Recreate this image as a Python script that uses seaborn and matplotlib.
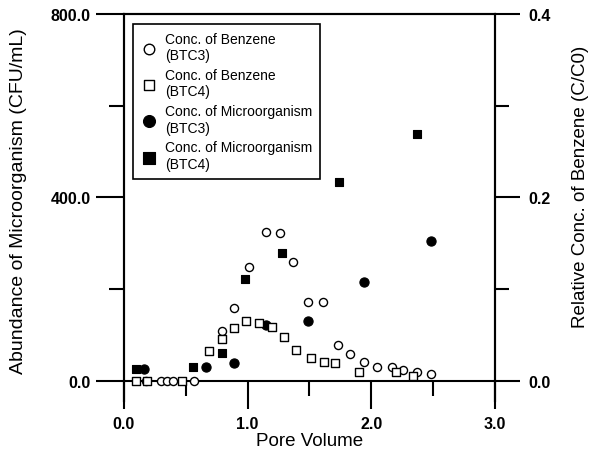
import matplotlib
matplotlib.use("Agg")
import matplotlib.pyplot as plt
import seaborn as sns
import pandas as pd
from matplotlib.ticker import MultipleLocator, FormatStrFormatter

# ---- data ----
pv_benz3 = [0.18, 0.30, 0.35, 0.40, 0.57, 0.79, 0.89, 1.01, 1.15, 1.26, 1.37,
            1.49, 1.61, 1.73, 1.83, 1.94, 2.05, 2.17, 2.26, 2.37, 2.48]
benz3 = [0, 0, 0, 0, 0, 0.054, 0.079, 0.124, 0.162, 0.161, 0.130,
         0.086, 0.086, 0.039, 0.029, 0.021, 0.015, 0.015, 0.012, 0.010, 0.007]

pv_benz4 = [0.10, 0.19, 0.47, 0.69, 0.79, 0.89, 0.99, 1.09, 1.20, 1.29, 1.39,
            1.51, 1.62, 1.71, 1.90, 2.20, 2.34]
benz4 = [0, 0, 0, 0.032, 0.046, 0.058, 0.065, 0.063, 0.059, 0.048, 0.034,
         0.025, 0.021, 0.019, 0.010, 0.010, 0.0055]

pv_micro3 = [0.16, 0.66, 0.89, 1.15, 1.49, 1.94, 2.48]
micro3 = [26, 30, 39, 122, 131, 216, 304]

pv_micro4 = [0.10, 0.56, 0.79, 0.98, 1.28, 1.74, 2.37]
micro4 = [26, 31, 61, 223, 278, 433, 538]

labels = ["Conc. of Benzene\n(BTC3)", "Conc. of Benzene\n(BTC4)",
          "Conc. of Microorganism\n(BTC3)", "Conc. of Microorganism\n(BTC4)"]

x_ticks = [0, 1, 2, 3]
left_ticks = [0, 400, 800]
right_ticks = [0.0, 0.2, 0.4]

# ---- style ----
sns.set_style("ticks")
plt.rcParams["font.family"] = ["Liberation Sans", "DejaVu Sans"]
plt.rcParams["text.color"] = "black"
plt.rcParams["axes.labelcolor"] = "black"
plt.rcParams["xtick.color"] = "black"
plt.rcParams["ytick.color"] = "black"

fig = plt.figure(figsize=(5.93, 4.52), dpi=100)
ax = fig.add_axes([0.2091, 0.1106, 0.8347 - 0.2091, 0.9668 - 0.1106])
ax2 = ax.twinx()

ymin = -44
ax.set_xlim(0, 3)
ax.set_ylim(ymin, 800)
ax2.set_ylim(ymin / 2000, 0.4)

df_m3 = pd.DataFrame({"pv": pv_micro3, "v": micro3})
df_m4 = pd.DataFrame({"pv": pv_micro4, "v": micro4})
df_b3 = pd.DataFrame({"pv": pv_benz3, "v": benz3})
df_b4 = pd.DataFrame({"pv": pv_benz4, "v": benz4})

sns.scatterplot(data=df_m3, x="pv", y="v", ax=ax, marker="o", s=44,
                color="black", edgecolor="black", linewidth=0.8, zorder=3)
sns.scatterplot(data=df_m4, x="pv", y="v", ax=ax, marker="s", s=40,
                color="black", edgecolor="black", linewidth=0.8, zorder=3)
sns.scatterplot(data=df_b3, x="pv", y="v", ax=ax2, marker="o", s=34,
                color="white", edgecolor="black", linewidth=1.0, zorder=3)
sns.scatterplot(data=df_b4, x="pv", y="v", ax=ax2, marker="s", s=34,
                color="white", edgecolor="black", linewidth=1.0, zorder=3)

# spines
for a in (ax, ax2):
    for sp in a.spines.values():
        sp.set_linewidth(1.5)
        sp.set_color("black")
ax.spines["bottom"].set_position(("data", 0))
ax2.spines["bottom"].set_visible(False)

# ticks
ax.set_xticks(x_ticks)
ax.xaxis.set_minor_locator(MultipleLocator(0.5))
ax.xaxis.set_major_formatter(FormatStrFormatter("%.1f"))
ax.set_yticks(left_ticks)
ax.yaxis.set_minor_locator(MultipleLocator(200))
ax.yaxis.set_major_formatter(FormatStrFormatter("%.1f"))
ax2.set_yticks(right_ticks)
ax2.yaxis.set_minor_locator(MultipleLocator(0.1))
ax2.yaxis.set_major_formatter(FormatStrFormatter("%.1f"))

ax.tick_params(axis="both", which="major", direction="out", length=20,
               width=1.5, labelsize=11.5, pad=4, colors="black")
ax.tick_params(axis="both", which="minor", direction="out", length=11,
               width=1.5, colors="black")
ax.tick_params(axis="x", which="major", pad=5)
ax.tick_params(axis="y", which="both", right=False)
ax2.tick_params(axis="y", which="major", direction="out", length=18,
                width=1.5, labelsize=11.5, pad=6, colors="black")
ax2.tick_params(axis="y", which="minor", direction="out", length=10,
                width=1.5, colors="black")
for lab in ax.get_xticklabels() + ax.get_yticklabels() + ax2.get_yticklabels():
    lab.set_fontweight("bold")

ax.set_xlabel("Pore Volume", fontsize=13.5)
ax.set_ylabel("Abundance of Microorganism (CFU/mL)", fontsize=14)
ax2.set_ylabel("Relative Conc. of Benzene (C/C0)", fontsize=13.5)
ax.xaxis.set_label_coords(0.5, -0.08)
ax.yaxis.set_label_coords(-0.261, 0.519)
ax2.yaxis.set_label_coords(1.208, 0.556)

# legend
h_all = ax2.collections[:2] + ax.collections[:2]
leg = ax2.legend(h_all, labels, loc="upper left",
                 bbox_to_anchor=(0.024, 0.974), borderaxespad=0,
                 fontsize=10, frameon=True, fancybox=False, framealpha=1,
                 edgecolor="black", markerscale=1.3, labelspacing=0.42,
                 handletextpad=0.55, borderpad=0.55, handlelength=1.2)
leg.get_frame().set_linewidth(1.2)
for t in leg.get_texts():
    t.set_linespacing(1.22)

fig.savefig("out.png", dpi=100)
